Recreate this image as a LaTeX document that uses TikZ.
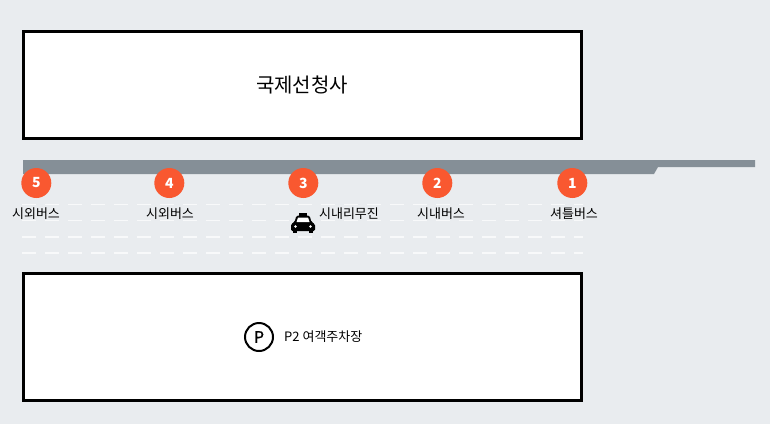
\documentclass[tikz,border=0pt]{standalone}
\usepackage{fontspec}
\setmainfont{Noto Sans CJK KR}
\newfontfamily\heavyfont[FakeBold=1.2]{Noto Sans CJK KR}
\usetikzlibrary{positioning}
\definecolor{pagebg}{HTML}{E9ECEF}
\definecolor{roadgray}{HTML}{858F97}
\definecolor{stoporange}{HTML}{F95830}
\tikzset{>=latex,
	building/.style={draw=black, line width=3pt, fill=white},
	stopmark/.style={circle, fill=stoporange, text=white, inner sep=0pt, minimum size=30pt,
		font=\fontsize{14}{14}\selectfont\bfseries},
	stoplabel/.style={text=black, inner sep=0pt, font=\fontsize{13}{13}\selectfont},
	lanemark/.style={draw=white!70!pagebg, line width=1.5pt, dash pattern=on 14pt off 9pt}
}

\begin{document}
\begin{tikzpicture}[x=1pt, y=-1pt]
	\useasboundingbox[fill=pagebg] (0,0) rectangle (770,424);

	% lane markings
	\foreach \y in {204.5,220.5,237,253}
		\draw[lanemark] (21.5,\y) -- (583,\y);

	% the kerb
	\fill[roadgray] (23,160) -- (755,160) -- (755,167) -- (658,167) -- (654,174) -- (23,174) -- cycle;

	% buildings
	\draw[building] (23.5,31.5) rectangle (581.5,138);
	\draw[building] (23.5,273.5) rectangle (581.5,400.5);
	\node[inner sep=0pt, font=\fontsize{20}{20}\selectfont] (terminal) at (302,84.5) {국제선청사};

	% parking
	\node[circle, draw=black, line width=2pt, minimum size=28pt, inner sep=0pt,
		font=\heavyfont\fontsize{16}{16}\selectfont] (parkmark) at (259,337) {P};
	\node[stoplabel, right=10pt of parkmark, yshift=0.5pt] (parking) {P2 여객주차장};

	% stops
	\foreach \n/\x in {5/36.3, 4/169.3, 3/303.3, 2/437.3, 1/572.3}
		\node[stopmark] (stop\n) at (\x,183) {\n};
	\node[stoplabel] (label5) at (36,213.5) {시외버스};
	\node[stoplabel] (label4) at (170,213.5) {시외버스};
	\node[stoplabel] (label3) at (349,213.5) {시내리무진};
	\node[stoplabel] (label2) at (441,213.5) {시내버스};
	\node[stoplabel] (label1) at (574,213.5) {셔틀버스};

	% the taxi
	\begin{scope}[shift={(303,223)}]
		\fill[black] (-4,-10) rectangle (4,-6);
		\fill[black, rounded corners=1.5pt] (-8.5,-1) -- (-6.5,-7.5) -- (6.5,-7.5) -- (8.5,-1)
			-- (12,1) -- (12,8) -- (-12,8) -- (-12,1) -- cycle;
		\fill[black] (-10,8) rectangle (-6,10);
		\fill[black] (6,8) rectangle (10,10);
		\fill[white] (-6.5,-1) -- (-5,-5.5) -- (5,-5.5) -- (6.5,-1) -- cycle;
		\fill[white] (-7.5,3.5) circle (1.4);
		\fill[white] (7.5,3.5) circle (1.4);
	\end{scope}
\end{tikzpicture}
\end{document}
